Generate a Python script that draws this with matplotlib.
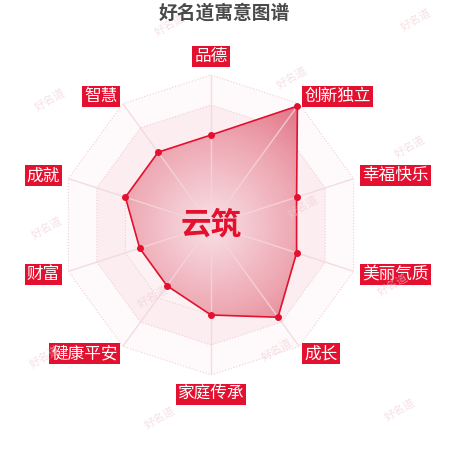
import numpy as np
import matplotlib
matplotlib.use('Agg')
import matplotlib.pyplot as plt
from matplotlib.colors import LinearSegmentedColormap

plt.rcParams['font.family'] = ['Noto Sans CJK SC', 'DejaVu Sans']

title = '好名道寓意图谱'
name = '云筑'
labels = ['品德', '创新独立', '幸福快乐', '美丽气质', '成长',
          '家庭传承', '健康平安', '财富', '成就', '智慧']
values = [60, 98, 60, 60, 76, 60, 50, 50, 60, 60]
max_value = 100
levels = [20, 40, 60, 80, 100]

# watermark spots, in pixels of the 450x450 picture
marks = [(170, 25), (416, 20), (50, 100), (292, 78), (410, 147), (47, 228),
         (303, 207), (393, 285), (153, 297), (45, 357), (277, 350),
         (160, 418), (400, 410)]

red = '#e3112f'

fig = plt.figure(figsize=(4.5, 4.5), dpi=100)
fig.patch.set_facecolor('white')
ax = fig.add_axes([61 / 450, 75 / 450, 300 / 450, 300 / 450], projection='polar')
ax.set_theta_zero_location('N')
ax.set_theta_direction(-1)
ax.axis('off')

n = len(labels)
theta = np.arange(n) * 2 * np.pi / n
tc = np.append(theta, theta[0])

# split areas, outer to inner
ring_colors = ['#fefafb', '#fbedf0', '#fcf2f4', '#f9e6e9', '#fbeef1']
for lv, c in zip(levels[::-1], ring_colors):
    ax.fill(tc, [lv] * (n + 1), color=c, lw=0, zorder=1)
for lv in levels:
    ax.plot(tc, [lv] * (n + 1), ls=':', color='#efcfd5', lw=0.8, zorder=2)

# value polygon with radial gradient
vc = values + values[:1]
poly = ax.fill(tc, vc, facecolor='none', edgecolor='none', zorder=3)[0]
cmap = LinearSegmentedColormap.from_list('rad', [(0, '#f8e0e5'), (0.6, '#eda5b0'), (1, '#e07185')])
T, Rr = np.meshgrid(np.linspace(0, 2 * np.pi, 361), np.linspace(0, max_value, 101))
C = (Rr[:-1, :-1] + Rr[1:, 1:]) / 2
mesh = ax.pcolormesh(T, Rr, C, cmap=cmap, vmin=0, vmax=max_value, shading='flat', zorder=3)
mesh.set_clip_path(poly)

# spokes
for t in theta:
    ax.plot([t, t], [0, max_value], color='#f3d6db', lw=1, alpha=0.85, zorder=4)

ax.plot(tc, vc, color=red, lw=1.2, zorder=5)
ax.plot(theta, values, 'o', ms=4, color=red, zorder=6)

for t, lab in zip(theta, labels):
    s = np.sin(t)
    if abs(s) < 0.01:
        ha = 'center'
        va = 'bottom' if np.cos(t) > 0 else 'top'
        r = 107
    else:
        ha = 'left' if s > 0 else 'right'
        va = 'center'
        r = 106
    ax.text(t, r, lab, ha=ha, va=va, color='white', fontsize=12, zorder=7,
            bbox=dict(boxstyle='square,pad=0.12', fc=red, ec='none'))

ax.text(0, 0, name, ha='center', va='center', color=red, fontsize=22,
        fontweight='bold', zorder=8)
ax.set_ylim(0, max_value)

for x, y in marks:
    fig.text(x / 450, 1 - y / 450, '好名道', rotation=30, ha='center', va='center',
             fontsize=8, color='#f0ccd2', alpha=0.6, zorder=0)

fig.text(0.498, 1 - 13 / 450, title, ha='center', va='center', fontsize=13.5,
         fontweight='bold', color='#4a4a4a')

fig.savefig('out.png', dpi=100, facecolor='white')
